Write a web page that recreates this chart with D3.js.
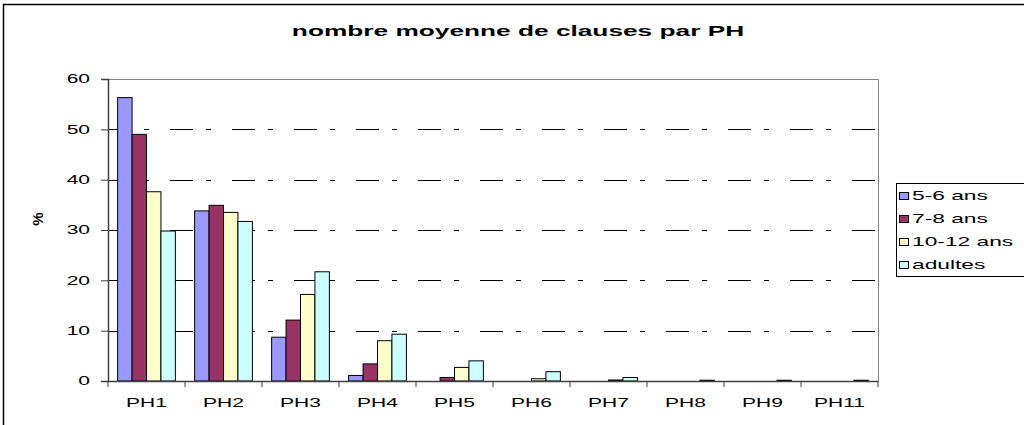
<!DOCTYPE html>
<html>
<head>
<meta charset="utf-8">
<script src="https://cdn.jsdelivr.net/npm/d3@7"></script>
<style>
  body { margin: 0; background: #fff; }
  svg { font-family: "Liberation Sans", Arial, sans-serif; }
</style>
</head>
<body>
<svg width="1024" height="425"></svg>
<script>
// categories and series
var categories = ["PH1", "PH2", "PH3", "PH4", "PH5", "PH6", "PH7", "PH8", "PH9", "PH11"];
var seriesNames = ["5-6 ans", "7-8 ans", "10-12 ans", "adultes"];
var seriesColors = ["#9999ff", "#993366", "#ffffcc", "#ccffff"];
var values56 = [56.3, 33.8, 8.7, 1.1, 0, 0, 0, 0, 0, 0];
var values78 = [49.0, 34.9, 12.1, 3.4, 0.7, 0, 0, 0, 0, 0];
var values1012 = [37.6, 33.5, 17.2, 8.0, 2.7, 0.45, 0.2, 0, 0, 0];
var valuesAdultes = [29.8, 31.7, 21.7, 9.3, 4.0, 1.85, 0.7, 0.15, 0.15, 0.15];
var yTicks = [0, 10, 20, 30, 40, 50, 60];

var allValues = [values56, values78, values1012, valuesAdultes];

var svg = d3.select("svg");

// the original picture is stretched sideways, so texts are widened too
var widen = 1.75;
function stretch(sel, k) {
  sel.each(function() {
    var w = this.getComputedTextLength();
    d3.select(this).attr("textLength", w * k).attr("lengthAdjust", "spacingAndGlyphs");
  });
}

// outer chart frame
svg.append("rect")
    .attr("x", 3.5).attr("y", 4.5)
    .attr("width", 1040).attr("height", 440)
    .attr("fill", "none").attr("stroke", "#000").attr("stroke-width", 1.5);

var plotLeft = 108, plotRight = 878, plotTop = 79, plotBottom = 381;

var x0 = d3.scaleBand().domain(categories).range([plotLeft, plotRight])
    .paddingInner(0.25).paddingOuter(0.125);
var x1 = d3.scaleBand().domain(seriesNames).range([0, x0.bandwidth()]);
var y = d3.scaleLinear().domain([0, 60]).range([plotBottom, plotTop]);

// title
var title = svg.append("text")
    .attr("x", 518).attr("y", 36)
    .attr("text-anchor", "middle")
    .style("font-size", "15px").style("font-weight", "bold")
    .text("nombre moyenne de clauses par PH");
stretch(title, widen);

// gridlines
svg.append("g").selectAll("line")
    .data(yTicks.filter(function(d) { return d > 0 && d < 60; }))
    .enter().append("line")
      .attr("x1", plotLeft).attr("x2", plotRight)
      .attr("y1", function(d) { return Math.round(y(d)) + 0.5; })
      .attr("y2", function(d) { return Math.round(y(d)) + 0.5; })
      .attr("stroke", "#000")
      .attr("stroke-dasharray", "23,13,5,21");

// plot area top/right border
svg.append("path")
    .attr("d", "M" + plotLeft + "," + (plotTop + 0.5) + "H" + (plotRight + 0.5) + "V" + plotBottom)
    .attr("fill", "none").attr("stroke", "#808080");

// bars
var groups = svg.append("g").selectAll("g")
    .data(categories)
    .enter().append("g")
      .attr("transform", function(c) { return "translate(" + x0(c) + ",0)"; });

groups.selectAll("rect")
    .data(function(c, i) {
      return seriesNames.map(function(s, j) { return { s: s, j: j, v: allValues[j][i] }; })
        .filter(function(d) { return d.v > 0; });
    })
    .enter().append("rect")
      .attr("x", function(d) { return x1(d.s); })
      .attr("y", function(d) { return y(d.v); })
      .attr("width", x1.bandwidth())
      .attr("height", function(d) { return y(0) - y(d.v); })
      .attr("fill", function(d) { return seriesColors[d.j]; })
      .attr("stroke", "#000").attr("stroke-width", 1);

// y axis
var yAxis = svg.append("g")
    .attr("transform", "translate(" + plotLeft + ",0)")
    .call(d3.axisLeft(y).tickValues(yTicks).tickSize(7).tickPadding(11));
yAxis.select(".domain").attr("stroke", "#404040").attr("stroke-width", 1.5);
yAxis.selectAll(".tick line").attr("stroke", "#404040");
yAxis.selectAll("text").style("font-size", "12px").attr("fill", "#000");
stretch(yAxis.selectAll("text"), widen);

// x axis with ticks at category boundaries
var xAxis = svg.append("g")
    .attr("transform", "translate(0," + plotBottom + ")")
    .call(d3.axisBottom(x0).tickSize(0).tickPadding(17));
xAxis.select(".domain").attr("stroke", "#404040").attr("stroke-width", 1.5);
xAxis.selectAll("text").style("font-size", "12px").attr("fill", "#000");
stretch(xAxis.selectAll("text"), widen);
svg.append("g").selectAll("line")
    .data(d3.range(categories.length + 1))
    .enter().append("line")
      .attr("x1", function(i) { return plotLeft + i * x0.step(); })
      .attr("x2", function(i) { return plotLeft + i * x0.step(); })
      .attr("y1", plotBottom).attr("y2", plotBottom + 6)
      .attr("stroke", "#404040");

// y axis label
svg.append("text")
    .attr("transform", "translate(43,219) rotate(-90)")
    .attr("text-anchor", "middle")
    .style("font-size", "15px").style("font-weight", "bold")
    .text("%");

// legend
var legend = svg.append("g");
legend.append("rect")
    .attr("x", 896.5).attr("y", 183.5)
    .attr("width", 140).attr("height", 93)
    .attr("fill", "#fff").attr("stroke", "#000");

var items = legend.selectAll("g.item")
    .data(seriesNames)
    .enter().append("g")
      .attr("class", "item")
      .attr("transform", function(d, i) { return "translate(899," + (200 + i * 23) + ")"; });
items.append("rect")
    .attr("x", 0.5).attr("y", -7.5).attr("width", 9).attr("height", 7)
    .attr("fill", function(d, i) { return seriesColors[i]; })
    .attr("stroke", "#000");
var legendText = items.append("text")
    .attr("x", 13).attr("y", 0)
    .style("font-size", "13px")
    .text(function(d) { return d; });
stretch(legendText, widen);
</script>
</body>
</html>
